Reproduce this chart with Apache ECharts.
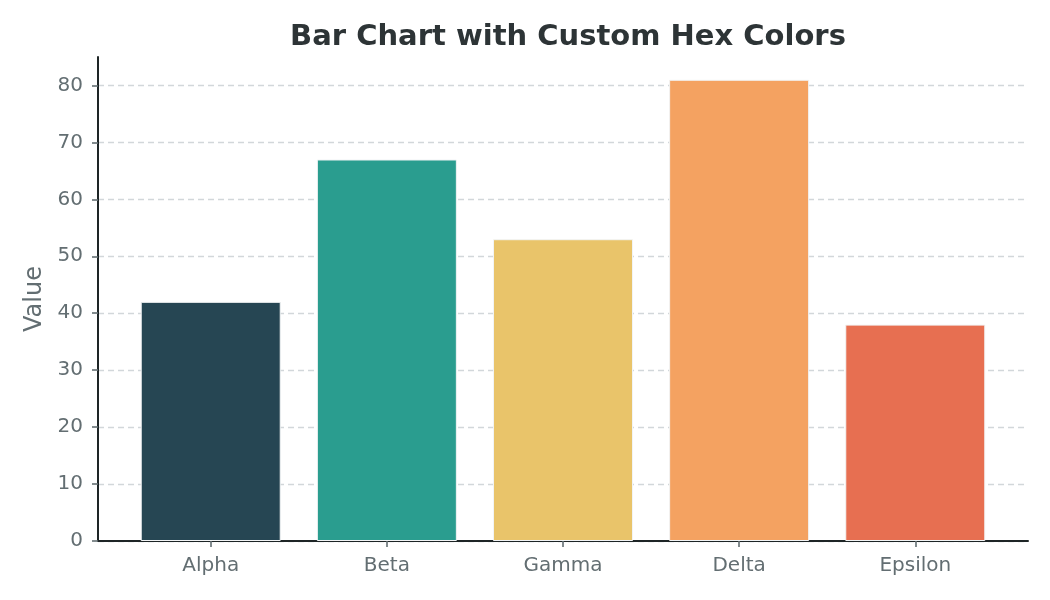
<!DOCTYPE html>
<html>
<head>
<meta charset="utf-8">
<script src="https://cdn.jsdelivr.net/npm/echarts@6/dist/echarts.min.js"></script>
<style>
  html, body { margin: 0; padding: 0; background: #fff; }
  #chart { width: 1050px; height: 600px; }
</style>
</head>
<body>
<div id="chart"></div>
<script>
// data
var categories = ['Alpha', 'Beta', 'Gamma', 'Delta', 'Epsilon'];
var values = [42, 67, 53, 81, 38];
var barColors = ['#264653', '#2a9d8f', '#e9c46a', '#f4a261', '#e76f51'];
var xTicks = [0, 1, 2, 3, 4];
var yTicks = [0, 10, 20, 30, 40, 50, 60, 70, 80];

var chart = echarts.init(document.getElementById('chart'));

// bars on a value x axis so the padding at the ends matches the original
var barData = values.map(function (v, i) {
    return { value: [i, v], itemStyle: { color: barColors[i] } };
});

chart.setOption({
    animation: false,
    textStyle: { fontFamily: 'DejaVu Sans' },
    title: {
        text: 'Bar Chart with Custom Hex Colors',
        left: 563,
        top: 18,
        textAlign: 'center',
        textStyle: { fontSize: 29, fontWeight: 'bold', color: '#2d3436', fontFamily: 'DejaVu Sans' }
    },
    grid: { left: 98, right: 22, top: 57, bottom: 59 },
    xAxis: {
        type: 'value',
        min: -0.64,
        max: 4.64,
        axisLine: { show: true, onZero: false, lineStyle: { color: '#1e2526', width: 2 } },
        axisTick: { show: true, inside: false, length: 6, customValues: xTicks, lineStyle: { color: '#636e72', width: 1.6 } },
        axisLabel: {
            customValues: xTicks,
            formatter: function (v) { return categories[v]; },
            color: '#636e72', fontSize: 20, margin: 15
        },
        splitLine: { show: false }
    },
    yAxis: {
        type: 'value',
        min: 0,
        max: 85,
        name: 'Value',
        nameLocation: 'middle',
        nameGap: 50,
        nameTextStyle: { color: '#636e72', fontSize: 24 },
        axisLine: { show: true, onZero: false, lineStyle: { color: '#1e2526', width: 2 } },
        axisTick: { show: true, inside: false, length: 6, customValues: yTicks, lineStyle: { color: '#636e72', width: 1.6 } },
        axisLabel: { customValues: yTicks, color: '#636e72', fontSize: 20, margin: 15 },
        splitLine: { show: true, lineStyle: { color: '#d2d7da', type: [6, 4], width: 1.3 } }
    },
    series: [{
        type: 'bar',
        data: barData,
        barWidth: 140,
        itemStyle: { borderColor: '#f2f4f5', borderWidth: 1 }
    }]
});
</script>
</body>
</html>
